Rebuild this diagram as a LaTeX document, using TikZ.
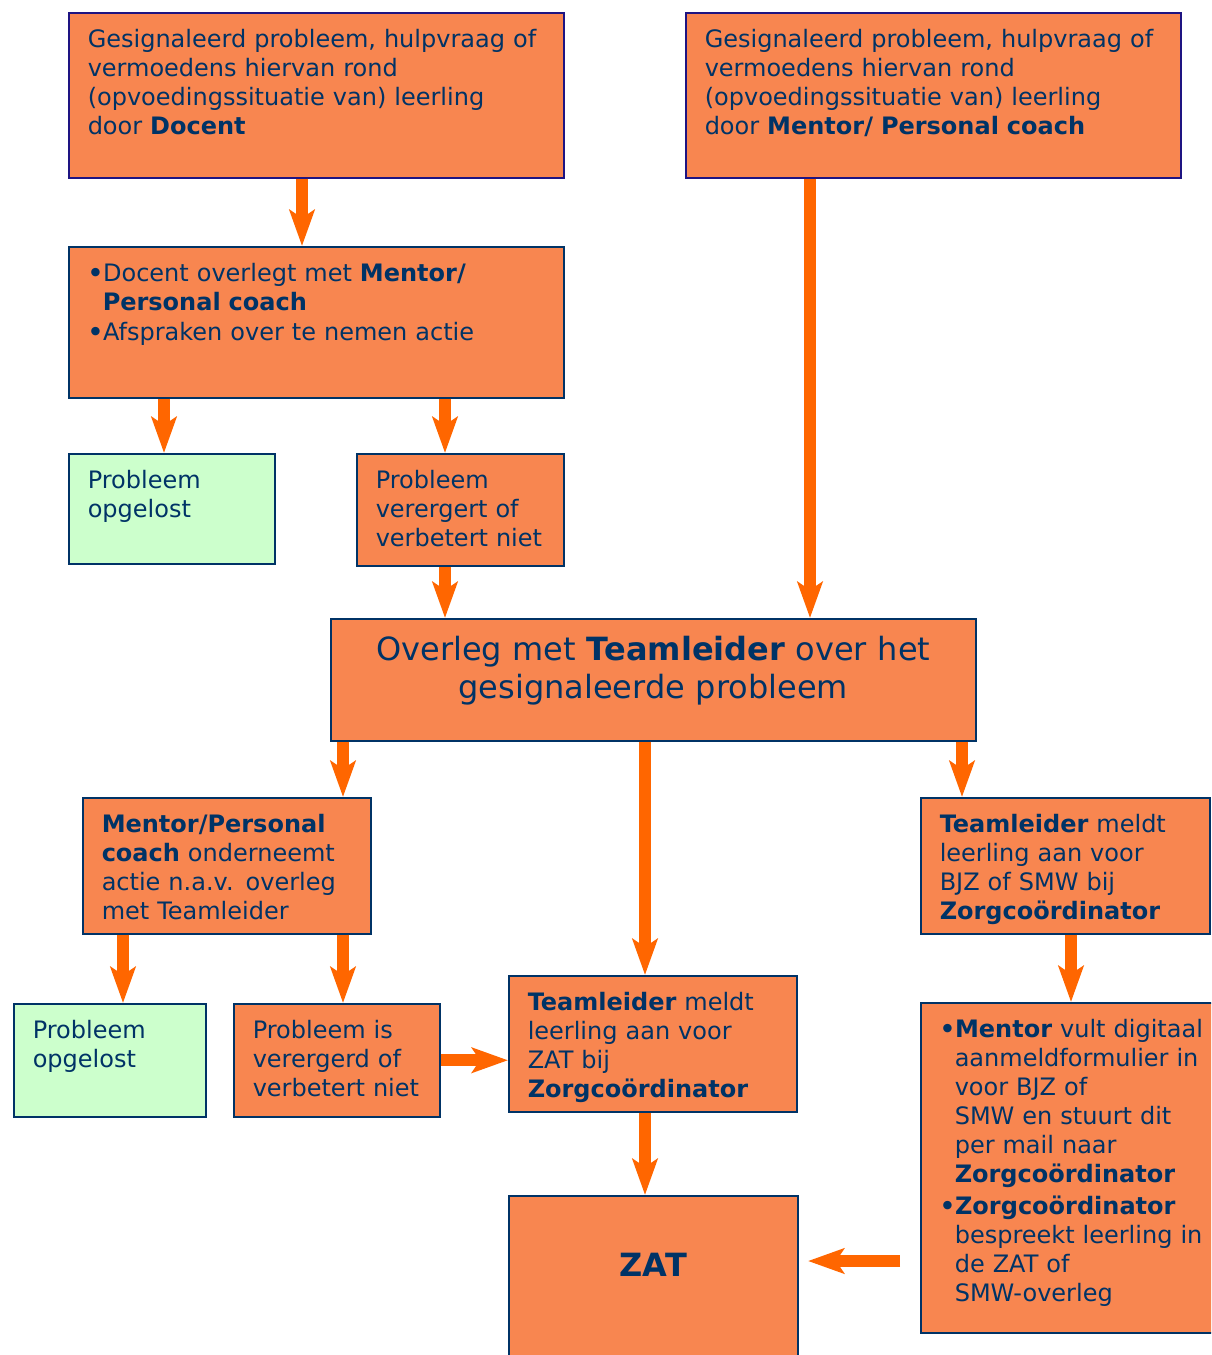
\documentclass[tikz,border=0pt]{standalone}
\usepackage{fontspec}
\setmainfont{DejaVu Sans}
\usetikzlibrary{arrows.meta}
\definecolor{boxfill}{RGB}{248,134,80}
\definecolor{groenfill}{RGB}{204,255,204}
\definecolor{boxline}{RGB}{0,51,102}
\definecolor{topline}{RGB}{30,20,130}
\definecolor{textblue}{RGB}{0,51,102}
\definecolor{pijl}{RGB}{255,102,0}
\newcommand{\bol}{\textbf{•}}
\tikzset{
  box/.style={draw=boxline, line width=1.5pt, fill=boxfill, text=textblue,
    anchor=north west, align=left, inner xsep=19pt, inner ysep=12pt,
    text height=23pt, font=\fontsize{24}{29}\selectfont},
  topbox/.style={box, draw=topline},
  groen/.style={box, fill=groenfill},
  arr/.style={draw=pijl, line width=12pt,
    -{Stealth[length=36pt, width=25pt, inset=8pt]}}
}

\begin{document}
\begin{tikzpicture}[x=1pt,y=-1pt]
  \useasboundingbox (0,0) rectangle (1211,1355);
  \clip (0,0) rectangle (1211,1355);

  \node[topbox, text width=457pt, text depth=118pt] (signdocent) at (68,12)
    {Gesignaleerd probleem, hulpvraag of\\ vermoedens hiervan rond\\
     (opvoedingssituatie van) leerling\\ door \textbf{Docent}};
  \node[topbox, text width=457pt, text depth=118pt] (signmentor) at (685,12)
    {Gesignaleerd probleem, hulpvraag of\\ vermoedens hiervan rond\\
     (opvoedingssituatie van) leerling\\ door \textbf{Mentor/ Personal coach}};

  \node[box, text width=457pt, text depth=104pt] (overlegdocent) at (68,246)
    {\bol Docent overlegt met \textbf{Mentor/}\\
     \hspace*{15pt}\textbf{Personal coach}\\[1pt]
     \bol Afspraken over te nemen actie};
  \node[groen, text width=168pt, text depth=63pt] (opgelosta) at (68,453)
    {Probleem\\ opgelost};
  \node[box, text width=169pt, text depth=65pt] (verergerta) at (356,453)
    {Probleem\\ verergert of\\ verbetert niet};

  \node[box, align=center, text width=607pt, text height=30pt, text depth=68pt,
    font=\fontsize{32}{38}\selectfont] (teamleider) at (330,618)
    {Overleg met \textbf{Teamleider} over het\\ gesignaleerde probleem};

  \node[box, text width=250pt, text depth=89pt] (mentoractie) at (82,797)
    {\textbf{Mentor/Personal}\\ \textbf{coach} onderneemt\\
     actie n.a.v. overleg\\ met Teamleider};
  \node[box, text width=251pt, text depth=89pt] (meldbjz) at (920,797)
    {\textbf{Teamleider} meldt\\ leerling aan voor\\ BJZ of SMW bij\\
     \textbf{Zorgcoördinator}};

  \node[groen, text width=154pt, text depth=66pt] (opgelostb) at (13,1003)
    {Probleem\\ opgelost};
  \node[box, text width=168pt, text depth=66pt] (verergerdb) at (233,1003)
    {Probleem is\\ verergerd of\\ verbetert niet};
  \node[box, text width=250pt, text depth=89pt] (meldzat) at (508,975)
    {\textbf{Teamleider} meldt\\ leerling aan voor\\ ZAT bij\\
     \textbf{Zorgcoördinator}};

  \node[box, align=center, text width=251pt, text height=69pt, text depth=87pt,
    font=\fontsize{32}{38}\selectfont\bfseries] (zat) at (508,1195) {ZAT};

  % rechterkant loopt van de pagina af
  \node[box, text width=300pt, text depth=283pt] (aanmelden) at (920,1002)
    {\bol\textbf{Mentor} vult digitaal\\
     \hspace*{15pt}aanmeldformulier in\\
     \hspace*{15pt}voor BJZ of\\
     \hspace*{15pt}SMW en stuurt dit\\
     \hspace*{15pt}per mail naar\\
     \hspace*{15pt}\textbf{Zorgcoördinator}\\[3pt]
     \bol\textbf{Zorgcoördinator}\\
     \hspace*{15pt}bespreekt leerling in\\
     \hspace*{15pt}de ZAT of\\
     \hspace*{15pt}SMW-overleg};

  \foreach \a/\b/\x in {signdocent/overlegdocent/302, signmentor/teamleider/810,
      overlegdocent/opgelosta/164, overlegdocent/verergerta/445,
      verergerta/teamleider/445, teamleider/mentoractie/343,
      teamleider/meldzat/645, teamleider/meldbjz/962,
      mentoractie/opgelostb/123, mentoractie/verergerdb/343,
      meldbjz/aanmelden/1071, meldzat/zat/645}
    \draw[arr] (\a.south -| \x,0) -- (\b.north -| \x,0);

  \draw[arr] (verergerdb.east) -- (verergerdb.east -| meldzat.west);
  \coordinate (vanrechts) at (900,1261);
  \coordinate (naarzat) at (808,1261);
  \draw[arr] (vanrechts) -- (naarzat);
\end{tikzpicture}
\end{document}
